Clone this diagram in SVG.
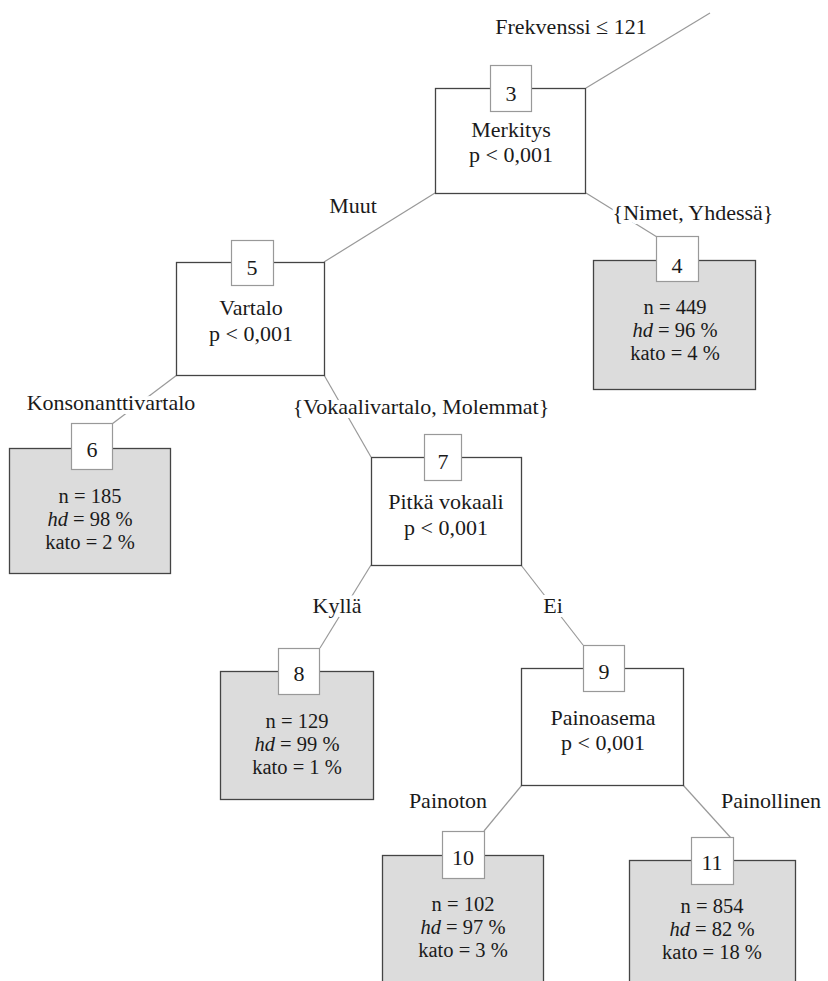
<svg xmlns="http://www.w3.org/2000/svg" width="828" height="981" viewBox="0 0 828 981">
<style>
text{font-family:"Liberation Serif","Times New Roman",serif;font-size:22px;fill:#1a1a1a;text-anchor:middle}
.stat{font-size:20.5px}
.inner{fill:#fff;stroke:#444;stroke-width:1.3}
.leaf{fill:#dcdcdc;stroke:#444;stroke-width:1.3}
.id{fill:#fff;stroke:#999;stroke-width:1.2}
.edge{stroke:#999;stroke-width:1.2;fill:none}
.el{paint-order:stroke;stroke:#fff;stroke-width:8;stroke-linejoin:round}
</style>
<rect width="828" height="981" fill="#fff"/>
<g id="connectors">
<line class="edge" x1="586" y1="88" x2="710" y2="13"/>
<line class="edge" x1="435" y1="193" x2="324" y2="262"/>
<line class="edge" x1="586" y1="193" x2="657" y2="237"/>
<line class="edge" x1="177" y1="375" x2="112" y2="424"/>
<line class="edge" x1="324" y1="375" x2="371" y2="457"/>
<line class="edge" x1="371" y1="565" x2="320" y2="648"/>
<line class="edge" x1="521" y1="565" x2="583" y2="645"/>
<line class="edge" x1="522" y1="785" x2="484" y2="831"/>
<line class="edge" x1="683" y1="785" x2="731" y2="838"/>
<text class="el" x="571" y="34">Frekvenssi ≤ 121</text>
<text class="el" x="353" y="213">Muut</text>
<text class="el" x="693" y="220">{Nimet, Yhdessä}</text>
<text class="el" x="111" y="410">Konsonanttivartalo</text>
<text class="el" x="421" y="414">{Vokaalivartalo, Molemmat}</text>
<text class="el" x="337" y="613">Kyllä</text>
<text class="el" x="553" y="613">Ei</text>
<text class="el" x="448" y="808">Painoton</text>
<text class="el" x="771" y="808">Painollinen</text>
</g>
<g id="node3">
<rect class="inner" x="435.5" y="88.5" width="150" height="105"/>
<rect class="id" x="490.5" y="65.5" width="41" height="46"/>
<text x="511" y="101">3</text>
<text x="511" y="137">Merkitys</text>
<text x="511" y="162">p &lt; 0,001</text>
</g>
<g id="node5">
<rect class="inner" x="176.5" y="262.5" width="148" height="113"/>
<rect class="id" x="231.5" y="240.5" width="42" height="45"/>
<text x="252" y="275">5</text>
<text x="251" y="315">Vartalo</text>
<text x="251" y="341">p &lt; 0,001</text>
</g>
<g id="node4">
<rect class="leaf" x="593.5" y="260.5" width="162" height="129"/>
<rect class="id" x="656.5" y="236.5" width="42" height="45"/>
<text x="677" y="273">4</text>
<text class="stat" x="675" y="314">n = 449</text>
<text class="stat" x="675" y="337"><tspan font-style="italic">hd</tspan> = 96 %</text>
<text class="stat" x="675" y="360">kato = 4 %</text>
</g>
<g id="node6">
<rect class="leaf" x="9.5" y="448.5" width="161" height="125"/>
<rect class="id" x="71.5" y="423.5" width="41" height="46"/>
<text x="92" y="457">6</text>
<text class="stat" x="90" y="503">n = 185</text>
<text class="stat" x="90" y="526"><tspan font-style="italic">hd</tspan> = 98 %</text>
<text class="stat" x="90" y="549">kato = 2 %</text>
</g>
<g id="node7">
<rect class="inner" x="371.5" y="457.5" width="150" height="108"/>
<rect class="id" x="424.5" y="434.5" width="37" height="46"/>
<text x="443" y="469">7</text>
<text x="446" y="509">Pitkä vokaali</text>
<text x="446" y="535">p &lt; 0,001</text>
</g>
<g id="node8">
<rect class="leaf" x="220.5" y="671.5" width="153" height="128"/>
<rect class="id" x="278.5" y="648.5" width="41" height="46"/>
<text x="299" y="681">8</text>
<text class="stat" x="297" y="728">n = 129</text>
<text class="stat" x="297" y="751"><tspan font-style="italic">hd</tspan> = 99 %</text>
<text class="stat" x="297" y="774">kato = 1 %</text>
</g>
<g id="node9">
<rect class="inner" x="521.5" y="668.5" width="162" height="117"/>
<rect class="id" x="583.5" y="645.5" width="41" height="46"/>
<text x="604" y="679">9</text>
<text x="603" y="725">Painoasema</text>
<text x="603" y="750">p &lt; 0,001</text>
</g>
<g id="node10">
<rect class="leaf" x="382.5" y="855.5" width="161" height="140"/>
<rect class="id" x="442.5" y="831.5" width="42" height="47"/>
<text x="463" y="865">10</text>
<text class="stat" x="463" y="911">n = 102</text>
<text class="stat" x="463" y="934"><tspan font-style="italic">hd</tspan> = 97 %</text>
<text class="stat" x="463" y="957">kato = 3 %</text>
</g>
<g id="node11">
<rect class="leaf" x="629.5" y="860.5" width="166" height="140"/>
<rect class="id" x="691.5" y="837.5" width="42" height="47"/>
<text x="712" y="870">11</text>
<text class="stat" x="712" y="913">n = 854</text>
<text class="stat" x="712" y="936"><tspan font-style="italic">hd</tspan> = 82 %</text>
<text class="stat" x="712" y="959">kato = 18 %</text>
</g>
</svg>
